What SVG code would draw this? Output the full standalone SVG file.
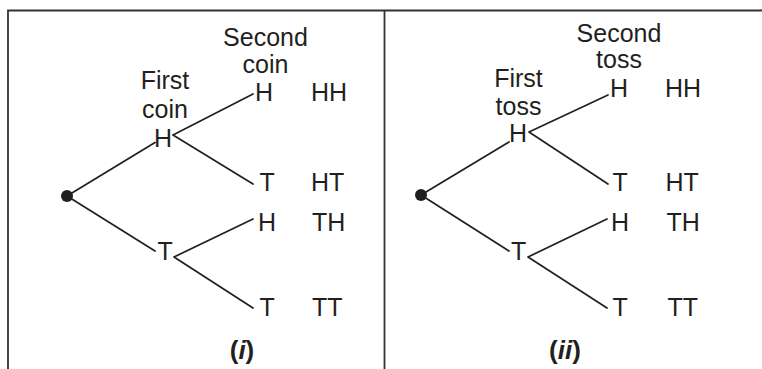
<svg xmlns="http://www.w3.org/2000/svg" width="762" height="369" viewBox="0 0 762 369">
<style>
  text { font-family: "Liberation Sans", Arial, Helvetica, sans-serif; font-size: 25px; fill: #231f20; }
  .c { text-anchor: middle; }
  .b { font-weight: bold; font-size: 26px; }
  .edge { stroke: #231f20; stroke-width: 1.7; fill: none; stroke-linecap: round; }
  .frame { stroke: #333; stroke-width: 1.8; fill: none; }
  .dot { fill: #231f20; }
</style>
<rect width="762" height="369" fill="#fff"/>
<g id="frame">
  <path class="frame" d="M8,369 V10.5 H762 M384.5,10.5 V369"/>
</g>
<g id="connectors">
  <path class="edge" d="M67,196 L155,142.5 M67,196 L155,251 M173,135 L253,94 M173,135 L253,184 M174,257 L253,219 M174,257 L253,308"/>
  <path class="edge" d="M421,195 L509,142 M421,195 L509,251 M529,132 L608,95 M529,132 L608,184 M528,257 L607,219 M528,257 L607,308"/>
</g>
<g id="tree1">
  <g id="t1-root"><circle class="dot" cx="67" cy="196" r="6"/></g>
  <g id="t1-head-second"><text class="c" x="265.5" y="46">Second</text><text class="c" x="265.5" y="73">coin</text></g>
  <g id="t1-head-first"><text class="c" x="165" y="89">First</text><text class="c" x="165" y="118">coin</text></g>
  <g id="t1-H"><text x="154" y="147">H</text></g>
  <g id="t1-T"><text x="157.5" y="260">T</text></g>
  <g id="t1-HH"><text x="255" y="101">H</text><text x="311" y="101">HH</text></g>
  <g id="t1-HT"><text x="259.5" y="191">T</text><text x="311" y="191">HT</text></g>
  <g id="t1-TH"><text x="258" y="231">H</text><text x="312" y="231">TH</text></g>
  <g id="t1-TT"><text x="259.5" y="316">T</text><text x="312" y="316">TT</text></g>
  <g id="t1-caption"><text class="c b" x="242" y="359">(<tspan font-style="italic">i</tspan>)</text></g>
</g>
<g id="tree2">
  <g id="t2-root"><circle class="dot" cx="421" cy="195" r="6"/></g>
  <g id="t2-head-second"><text class="c" x="619" y="41.5">Second</text><text class="c" x="619" y="68">toss</text></g>
  <g id="t2-head-first"><text class="c" x="518.5" y="87">First</text><text class="c" x="518.5" y="115">toss</text></g>
  <g id="t2-H"><text x="509" y="142">H</text></g>
  <g id="t2-T"><text x="511" y="260">T</text></g>
  <g id="t2-HH"><text x="610" y="97">H</text><text x="665" y="97">HH</text></g>
  <g id="t2-HT"><text x="612.5" y="191">T</text><text x="665.5" y="191">HT</text></g>
  <g id="t2-TH"><text x="611" y="231">H</text><text x="666.5" y="231">TH</text></g>
  <g id="t2-TT"><text x="612.5" y="316">T</text><text x="667.5" y="316">TT</text></g>
  <g id="t2-caption"><text class="c b" x="565" y="359">(<tspan font-style="italic">ii</tspan>)</text></g>
</g>
</svg>
